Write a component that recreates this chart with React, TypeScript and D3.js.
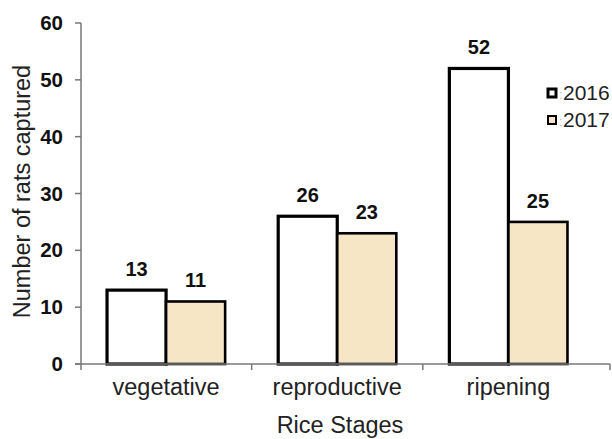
import * as d3 from 'd3'
import React from 'react'

const stages = ['vegetative', 'reproductive', 'ripening']
const years = ['2016', '2017']
const counts2016 = [13, 26, 52]
const counts2017 = [11, 23, 25]
const yTicks = [0, 10, 20, 30, 40, 50, 60]

const W = 612
const H = 439
const font = 'Liberation Sans, Arial, sans-serif'
const cream = '#F6E6C6'

const App = () => {
  const x = d3.scaleBand<string>()
    .domain(stages)
    .range([80.5, 594])
    .paddingInner(0.31)
    .paddingOuter(0.155)
  const xs = d3.scaleBand<string>().domain(years).range([0, x.bandwidth()])
  const y = d3.scaleLinear().domain([0, 60]).range([364, 23])

  const rows = stages.map((s, i) => ({ stage: s, values: [counts2016[i], counts2017[i]] }))
  const step = x.step()
  // tick marks sit between the groups and at the end of the axis
  const xTickPos = [x(stages[1])! - x.paddingInner() * step / 2, x(stages[2])! - x.paddingInner() * step / 2, 610]

  return (
    <svg width={W} height={H} style={{ position: 'absolute', left: 0, top: 0, background: '#fff' }}
      fontFamily={font}>
      {/* bars */}
      {rows.map(r => (
        <g key={r.stage} transform={`translate(${x(r.stage)},0)`}>
          {years.map((yr, j) => (
            <g key={yr}>
              <rect x={xs(yr)} y={y(r.values[j])} width={xs.bandwidth()} height={y(0) - y(r.values[j])}
                fill={j === 0 ? '#fff' : cream} stroke="#000" strokeWidth={j === 0 ? 3.2 : 2.6} />
              <text x={xs(yr)! + xs.bandwidth() / 2} y={y(r.values[j]) - 14} textAnchor="middle"
                fontSize={20} fontWeight="bold" fill="#111">{r.values[j]}</text>
            </g>
          ))}
        </g>
      ))}

      {/* y axis */}
      <line x1={81} x2={81} y1={y(60)} y2={y(0) + 6} stroke="#777" strokeWidth={1.5} />
      {yTicks.map(t => (
        <g key={t}>
          <line x1={75} x2={81} y1={y(t)} y2={y(t)} stroke="#777" strokeWidth={1.5} />
          <text x={63} y={y(t) + 7} textAnchor="end" fontSize={20.5} fontWeight="bold" fill="#111">{t}</text>
        </g>
      ))}

      {/* x axis */}
      <line x1={75} x2={610} y1={y(0)} y2={y(0)} stroke="#777" strokeWidth={1.5} />
      {xTickPos.map((p, i) => (
        <line key={i} x1={p} x2={p} y1={y(0)} y2={y(0) + 6} stroke="#777" strokeWidth={1.5} />
      ))}
      {stages.map(s => (
        <text key={s} x={x(s)! + x.bandwidth() / 2} y={395} textAnchor="middle" fontSize={23.5} fill="#222">{s}</text>
      ))}

      <text x={340} y={433} textAnchor="middle" fontSize={23.5} fill="#222">Rice Stages</text>
      <text transform={`translate(30,${y(30) - 2}) rotate(-90)`} textAnchor="middle" fontSize={23.5} fill="#222">
        Number of rats captured
      </text>

      {/* legend */}
      {years.map((yr, i) => (
        <g key={yr} transform={`translate(548,${89 + i * 27})`}>
          <rect x={0} y={0} width={8} height={8} fill={i === 0 ? '#fff' : cream} stroke="#000"
            strokeWidth={i === 0 ? 3 : 2} />
          <text x={11} y={10} fontSize={12} fill="#bbb">:</text>
          <text x={15} y={11} fontSize={21} fill="#222">{yr}</text>
        </g>
      ))}
    </svg>
  )
}

export default App
